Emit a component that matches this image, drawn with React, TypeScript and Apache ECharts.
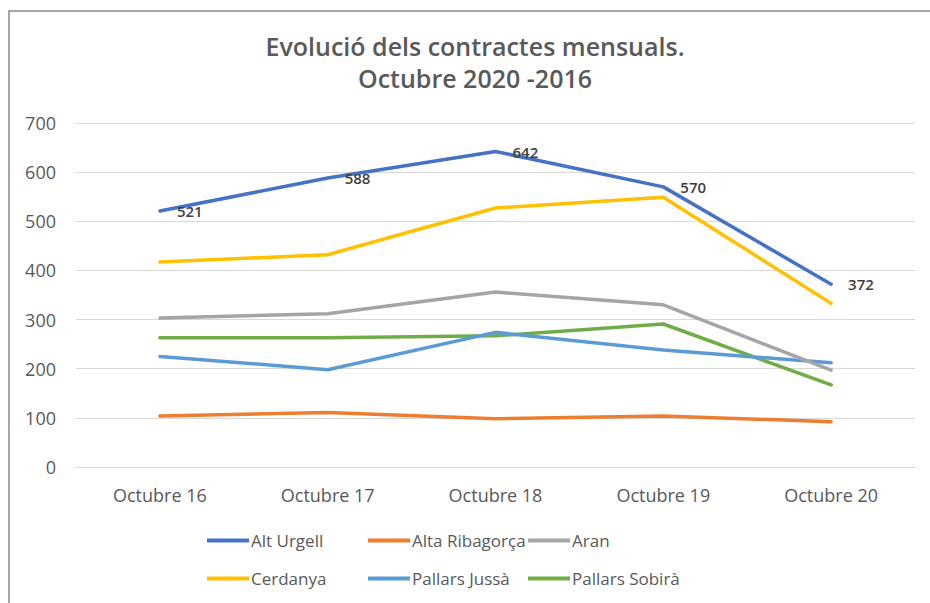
import React, { useEffect, useRef } from "react";
import * as echarts from "echarts";

const categories = ["Octubre 16", "Octubre 17", "Octubre 18", "Octubre 19", "Octubre 20"];
const altUrgell = [521, 588, 642, 570, 372];
const altaRibagorca = [104, 111, 98, 104, 92];
const aran = [303, 312, 356, 330, 197];
const cerdanya = [417, 432, 527, 549, 333];
const pallarsJussa = [225, 198, 274, 238, 212];
const pallarsSobira = [263, 263, 267, 291, 167];
const seriesNames = ["Alt Urgell", "Alta Ribagorça", "Aran", "Cerdanya", "Pallars Jussà", "Pallars Sobirà"];
const seriesColors = ["#4472C4", "#ED7D31", "#A5A5A5", "#FFC000", "#5B9BD5", "#70AD47"];
const seriesValues = [altUrgell, altaRibagorca, aran, cerdanya, pallarsJussa, pallarsSobira];

const FONT = "'Open Sans', sans-serif";

export default function App() {
  const ref = useRef<HTMLDivElement>(null);
  useEffect(() => {
    if (!ref.current) return;
    const chart = echarts.init(ref.current, undefined, { renderer: "svg" });
    const legendCol = (items: string[], left: number) => ({
      orient: "vertical",
      left,
      top: 532,
      data: items,
      icon: "rect",
      itemWidth: 42,
      itemHeight: 4,
      itemGap: 21,
      textStyle: { fontFamily: FONT, fontSize: 17, color: "#595959", padding: [0, 0, 0, -3] },
      padding: 0,
    });
    chart.setOption({
      animation: false,
      backgroundColor: "#ffffff",
      title: {
        text: "Evolució dels contractes mensuals.\nOctubre 2020 -2016",
        left: 470,
        textAlign: "center",
        top: 25,
        padding: [5, 5, 5, 5],
        textStyle: {
          fontFamily: FONT,
          fontSize: 25,
          fontWeight: 600,
          color: "#595959",
          lineHeight: 32,
        },
      },
      graphic: [
        {
          type: "rect",
          shape: { x: 9, y: 11, width: 940, height: 620 },
          style: { fill: "none", stroke: "#a6a6a6", lineWidth: 2 },
          silent: true,
        },
      ],
      legend: [
        legendCol([seriesNames[0], seriesNames[3]], 207),
        legendCol([seriesNames[1], seriesNames[4]], 368),
        legendCol([seriesNames[2], seriesNames[5]], 528),
      ],
      grid: { left: 76, right: 15, top: 123, bottom: 136 },
      xAxis: {
        type: "category",
        data: categories,
        boundaryGap: true,
        axisLine: { show: true, lineStyle: { color: "#d9d9d9", width: 1 } },
        axisTick: { show: false },
        axisLabel: { fontFamily: FONT, fontSize: 18, color: "#595959", margin: 19 },
      },
      yAxis: {
        type: "value",
        min: 0,
        max: 700,
        interval: 100,
        axisLine: { show: false },
        axisTick: { show: false },
        splitLine: { lineStyle: { color: "#d9d9d9", width: 1 } },
        axisLabel: { fontFamily: FONT, fontSize: 18, color: "#595959", margin: 20 },
      },
      series: seriesNames.map((name, i) => ({
        name,
        type: "line",
        data: seriesValues[i],
        symbol: "circle",
        symbolSize: 0,
        showSymbol: true,
        color: seriesColors[i],
        lineStyle: { width: 3.5, color: seriesColors[i], cap: "round" },
        z: 10 - i,
        label:
          i === 0
            ? {
                show: true,
                position: "right",
                distance: 17,
                fontFamily: FONT,
                fontSize: 15,
                fontWeight: 600,
                color: "#404040",
              }
            : { show: false },
      })),
    });
    return () => chart.dispose();
  }, []);
  return (
    <div
      ref={ref}
      style={{ position: "absolute", left: 0, top: 0, width: 930, height: 603 }}
    />
  );
}
